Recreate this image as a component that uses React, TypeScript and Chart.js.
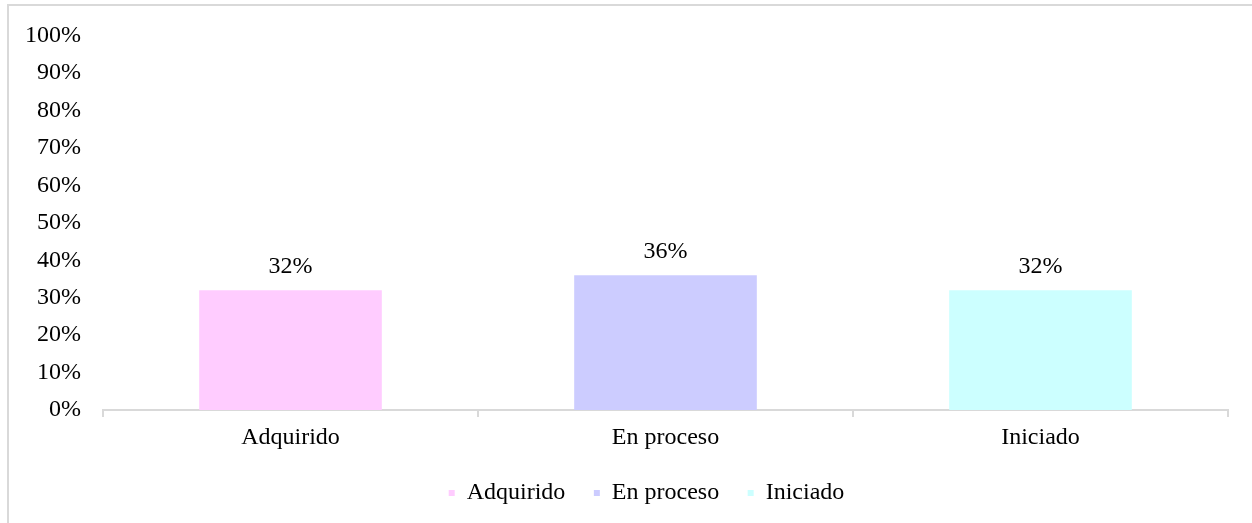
import React, { useEffect, useRef } from 'react';
import { Chart, registerables } from 'chart.js';

Chart.register(...registerables);

const categories = ['Adquirido', 'En proceso', 'Iniciado'];
const values = [32, 36, 32];
const colors = ['#FFCCFF', '#CCCCFF', '#CCFFFF'];
const yTickValues = [0, 10, 20, 30, 40, 50, 60, 70, 80, 90, 100];

const FONT = "'Liberation Serif', 'Times New Roman', serif";
const FONT_SIZE = 24;

export default function App() {
  const ref = useRef<HTMLCanvasElement>(null);

  useEffect(() => {
    if (!ref.current) return;

    const dataLabels = {
      id: 'dataLabels',
      afterDatasetsDraw(chart: any) {
        const ctx = chart.ctx;
        ctx.save();
        ctx.font = `${FONT_SIZE}px ${FONT}`;
        ctx.fillStyle = '#000';
        ctx.textAlign = 'center';
        ctx.textBaseline = 'alphabetic';
        chart.data.datasets.forEach((ds: any, i: number) => {
          const meta = chart.getDatasetMeta(i);
          meta.data.forEach((el: any, j: number) => {
            const v = ds.data[j];
            if (v == null) return;
            ctx.fillText(`${v}%`, el.x, el.y - 17);
          });
        });
        ctx.restore();
      },
    };

    const legendShift = {
      id: 'legendShift',
      afterLayout(chart: any) {
        const l = chart.legend;
        if (l) {
          l.left += 28;
          l.right += 28;
        }
      },
    };

    const datasets = categories.map((name, i) => ({
      label: name,
      data: categories.map((_, j) => (j === i ? values[i] : null)),
      backgroundColor: colors[i],
      borderWidth: 0,
      grouped: false,
      categoryPercentage: 1,
      barPercentage: 0.487,
    }));

    const chart = new Chart(ref.current, {
      type: 'bar',
      data: { labels: categories, datasets },
      options: {
        responsive: false,
        animation: false,
        layout: { padding: { top: 29.5, right: 16, bottom: 0, left: 0 } },
        font: { family: FONT },
        plugins: {
          legend: {
            position: 'bottom',
            labels: {
              boxWidth: 6,
              boxHeight: 6,
              padding: 28.5,
              color: '#000',
              font: { size: FONT_SIZE, family: FONT },
            },
          },
          tooltip: { enabled: false },
        },
        scales: {
          x: {
            grid: {
              display: true,
              drawOnChartArea: false,
              drawTicks: true,
              tickLength: 7,
              color: '#d9d9d9',
              lineWidth: 2,
              offset: true,
            },
            border: { display: true, color: '#d9d9d9', width: 2 },
            ticks: { color: '#000', padding: 6.6, font: { size: FONT_SIZE, family: FONT } },
            afterFit: (s: any) => {
              s.height = 42.4;
            },
          },
          y: {
            min: 0,
            max: 100,
            afterBuildTicks: (s: any) => {
              s.ticks = yTickValues.map((v) => ({ value: v }));
            },
            afterFit: (s: any) => {
              s.width = 94;
              s.paddingTop = 0;
              s.paddingBottom = 0;
            },
            ticks: {
              color: '#000',
              padding: 22,
              font: { size: FONT_SIZE, family: FONT },
              callback: (v: any) => `${v}%`,
            },
            grid: { display: false, drawTicks: false },
            border: { display: false },
          },
        },
      } as any,
      plugins: [dataLabels, legendShift],
    });

    return () => chart.destroy();
  }, []);

  return (
    <div
      style={{
        position: 'absolute',
        left: 7,
        top: 4,
        width: 1245,
        height: 519,
        borderTop: '2px solid #d9d9d9',
        borderLeft: '2px solid #d9d9d9',
        overflow: 'hidden',
      }}
    >
      <canvas ref={ref} width={1235} height={509} style={{ display: 'block' }} />
    </div>
  );
}
